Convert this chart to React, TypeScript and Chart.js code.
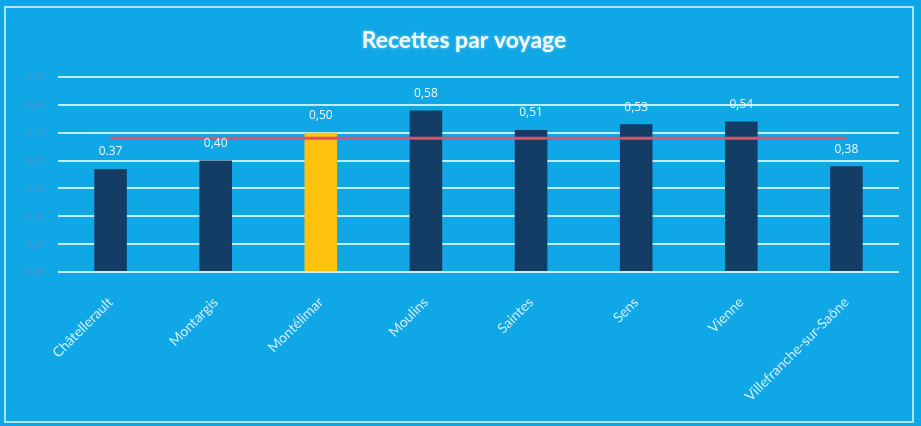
import React, { useEffect, useRef } from "react";
import { Chart, registerables } from "chart.js";

Chart.register(...registerables);

const categories = [
  "Châtellerault",
  "Montargis",
  "Montélimar",
  "Moulins",
  "Saintes",
  "Sens",
  "Vienne",
  "Villefranche-sur-Saône",
];
const recettes = [0.37, 0.4, 0.5, 0.58, 0.51, 0.53, 0.54, 0.38];
const valueLabels = ["0.37", "0,40", "0,50", "0,58", "0,51", "0,53", "0,54", "0,38"];
const moyenne = [0.48, 0.48, 0.48, 0.48, 0.48, 0.48, 0.48, 0.48];
const highlightIndex = 2;
const yTickLabels = ["0,00", "0,10", "0,20", "0,30", "0,40", "0,50", "0,60", "0,70"];
const title = "Recettes par voyage";

const W = 921;
const H = 426;
const BG = "#10a7e6";

const decorPlugin = {
  id: "decor",
  beforeDraw(chart: any) {
    const { ctx } = chart;
    ctx.save();
    ctx.fillStyle = BG;
    ctx.fillRect(0, 0, W, H);
    ctx.strokeStyle = "rgba(190,235,255,0.9)";
    ctx.lineWidth = 2;
    ctx.strokeRect(5, 7, 908, 415);
    ctx.fillStyle = "#f2fbff";
    ctx.font = "bold 23px Lato";
    ctx.textAlign = "center";
    ctx.textBaseline = "middle";
    ctx.shadowColor = "rgba(255,255,255,0.5)";
    ctx.shadowBlur = 3;
    ctx.fillText(title, 464, 41);
    ctx.restore();
  },
  afterDatasetsDraw(chart: any) {
    const { ctx } = chart;
    const meta = chart.getDatasetMeta(1);
    ctx.save();
    ctx.fillStyle = "#eaf8ff";
    ctx.font = "12px 'Open Sans'";
    ctx.textAlign = "center";
    ctx.textBaseline = "bottom";
    meta.data.forEach((bar: any, i: number) => {
      ctx.fillText(valueLabels[i], bar.x, bar.y - 11);
    });
    ctx.restore();
  },
};

export default function App() {
  const ref = useRef<HTMLCanvasElement>(null);
  useEffect(() => {
    document.body.style.margin = "0";
    const chart = new Chart(ref.current!, {
      type: "bar",
      data: {
        labels: categories,
        datasets: [
          {
            type: "line",
            data: moyenne,
            borderColor: "#de4f6e",
            borderWidth: 3,
            pointRadius: 0,
            fill: false,
            order: 0,
          } as any,
          {
            type: "bar",
            data: recettes,
            backgroundColor: recettes.map((_, i) => (i === highlightIndex ? "#ffc20e" : "#143d66")),
            barPercentage: 0.31,
            categoryPercentage: 1,
            order: 1,
          },
        ],
      },
      options: {
        responsive: false,
        animation: false,
        layout: { padding: { left: 0, right: 22, top: 77, bottom: 0 } },
        plugins: {
          legend: { display: false },
          title: { display: false },
          tooltip: { enabled: false },
        },
        scales: {
          x: {
            grid: { display: false },
            border: { display: false },
            ticks: {
              color: "#d2effc",
              font: { family: "Lato", size: 14 },
              minRotation: 45,
              maxRotation: 45,
              autoSkip: false,
              padding: 14,
            },
            afterFit(scale: any) {
              scale.height = H - 272;
            },
          },
          y: {
            min: 0,
            max: 0.7,
            border: { display: false },
            grid: {
              color: "rgba(205,238,255,0.95)",
              lineWidth: 2,
              drawTicks: false,
            },
            ticks: {
              stepSize: 0.1,
              color: "#4c93cf",
              font: { family: "Lato", size: 10 },
              padding: 13,
              callback: (_v: any, i: number) => yTickLabels[i],
            },
            afterFit(scale: any) {
              scale.width = 58;
            },
          },
        },
      },
      plugins: [decorPlugin],
    });
    return () => chart.destroy();
  }, []);
  return (
    <div style={{ width: W, height: H }}>
      <canvas ref={ref} width={W} height={H} style={{ display: "block" }} />
    </div>
  );
}
